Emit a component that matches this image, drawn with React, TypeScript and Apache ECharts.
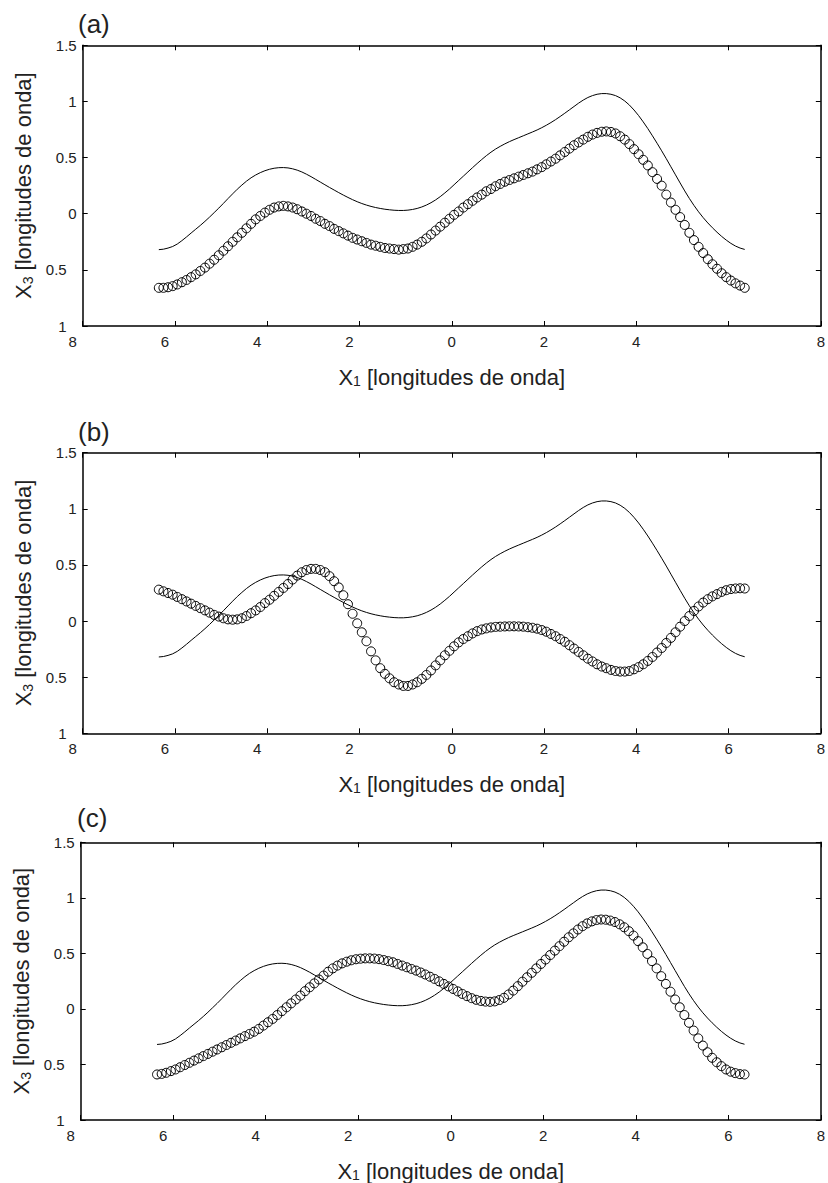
import React, { useEffect, useRef } from "react";
import * as echarts from "echarts";

// ---------- axes ----------
const X_MIN = -8;
const X_MAX = 8;
const X_INTERVAL = 2;
const Y_MIN = -1;
const Y_MAX = 1.5;
const Y_INTERVAL = 0.5;

const PANEL_LABELS = ["(a)", "(b)", "(c)"];
// x tick labels that are missing in each panel
const HIDDEN_X_LABELS = [[6], [], []];

// ---------- all curves are sampled every 0.1 from x = -6.35 to 6.35 ----------
const SAMPLE_X_START = -6.35;
const SAMPLE_X_STEP = 0.1;

// reference surface (solid line, identical in every panel)
const REF_SURFACE = [
  -0.32, -0.316, -0.306, -0.292, -0.27, -0.24, -0.207, -0.172, -0.138, -0.104,
  -0.068, -0.03, 0.01, 0.05, 0.092, 0.135, 0.177, 0.218, 0.255, 0.29,
  0.32, 0.345, 0.366, 0.383, 0.396, 0.405, 0.41, 0.411, 0.408, 0.4,
  0.388, 0.372, 0.352, 0.33, 0.306, 0.282, 0.258, 0.234, 0.211, 0.188,
  0.166, 0.145, 0.125, 0.107, 0.091, 0.077, 0.065, 0.055, 0.047, 0.04,
  0.035, 0.031, 0.029, 0.029, 0.032, 0.038, 0.047, 0.06, 0.077, 0.098,
  0.123, 0.152, 0.185, 0.22, 0.258, 0.296, 0.334, 0.372, 0.41, 0.447,
  0.483, 0.517, 0.548, 0.576, 0.6, 0.622, 0.642, 0.66, 0.677, 0.694,
  0.711, 0.728, 0.746, 0.766, 0.788, 0.812, 0.838, 0.866, 0.895, 0.925,
  0.955, 0.985, 1.012, 1.035, 1.052, 1.064, 1.07, 1.07, 1.064, 1.052,
  1.032, 1.004, 0.968, 0.924, 0.874, 0.818, 0.758, 0.694, 0.628, 0.56,
  0.49, 0.418, 0.346, 0.274, 0.203, 0.136, 0.074, 0.017, -0.035, -0.082,
  -0.125, -0.165, -0.202, -0.235, -0.264, -0.288, -0.306, -0.318,
];

// reconstructed surfaces (circles)
const CIRCLES_A = [
  -0.66, -0.66, -0.655, -0.645, -0.63, -0.61, -0.59, -0.565, -0.54, -0.51,
  -0.48, -0.445, -0.41, -0.37, -0.33, -0.29, -0.25, -0.21, -0.17, -0.13,
  -0.09, -0.05, -0.02, 0.01, 0.035, 0.055, 0.065, 0.07, 0.065, 0.055,
  0.04, 0.02, 0, -0.02, -0.045, -0.065, -0.09, -0.11, -0.135, -0.155,
  -0.175, -0.195, -0.215, -0.23, -0.245, -0.26, -0.275, -0.285, -0.295, -0.305,
  -0.31, -0.315, -0.32, -0.315, -0.31, -0.295, -0.275, -0.25, -0.22, -0.185,
  -0.15, -0.115, -0.08, -0.045, -0.01, 0.02, 0.055, 0.085, 0.115, 0.145,
  0.17, 0.2, 0.22, 0.245, 0.265, 0.285, 0.3, 0.315, 0.33, 0.345,
  0.36, 0.375, 0.395, 0.415, 0.44, 0.465, 0.49, 0.52, 0.55, 0.58,
  0.61, 0.635, 0.66, 0.685, 0.705, 0.72, 0.73, 0.733, 0.728, 0.715,
  0.69, 0.66, 0.62, 0.575, 0.53, 0.48, 0.43, 0.37, 0.31, 0.25,
  0.17, 0.1, 0.035, -0.03, -0.1, -0.17, -0.235, -0.295, -0.35, -0.405,
  -0.45, -0.49, -0.53, -0.565, -0.595, -0.62, -0.64, -0.66,
];

const CIRCLES_B = [
  0.28, 0.265, 0.25, 0.235, 0.215, 0.195, 0.175, 0.155, 0.135, 0.115,
  0.095, 0.075, 0.055, 0.04, 0.025, 0.015, 0.012, 0.015, 0.025, 0.045,
  0.07, 0.095, 0.125, 0.16, 0.19, 0.225, 0.26, 0.295, 0.33, 0.37,
  0.405, 0.435, 0.455, 0.465, 0.465, 0.455, 0.435, 0.4, 0.355, 0.3,
  0.23, 0.15, 0.065, -0.02, -0.1, -0.18, -0.27, -0.35, -0.42, -0.47,
  -0.51, -0.545, -0.565, -0.578, -0.578, -0.565, -0.545, -0.515, -0.48, -0.44,
  -0.395, -0.35, -0.305, -0.265, -0.225, -0.19, -0.16, -0.135, -0.11, -0.09,
  -0.075, -0.065, -0.057, -0.052, -0.05, -0.048, -0.047, -0.047, -0.048, -0.05,
  -0.055, -0.06, -0.068, -0.08, -0.095, -0.115, -0.135, -0.16, -0.185, -0.215,
  -0.245, -0.275, -0.305, -0.335, -0.36, -0.385, -0.405, -0.42, -0.435, -0.445,
  -0.45, -0.45, -0.445, -0.43, -0.41, -0.385, -0.355, -0.32, -0.28, -0.24,
  -0.195, -0.15, -0.1, -0.05, 0, 0.045, 0.09, 0.13, 0.165, 0.195,
  0.22, 0.24, 0.26, 0.275, 0.285, 0.29, 0.292, 0.29,
];

const CIRCLES_C = [
  -0.59, -0.585, -0.575, -0.56, -0.545, -0.525, -0.505, -0.485, -0.465, -0.445,
  -0.425, -0.405, -0.385, -0.365, -0.345, -0.325, -0.305, -0.285, -0.265, -0.245,
  -0.225, -0.205, -0.18, -0.15, -0.12, -0.09, -0.055, -0.02, 0.015, 0.05,
  0.085, 0.12, 0.16, 0.195, 0.23, 0.265, 0.3, 0.335, 0.365, 0.39,
  0.41, 0.425, 0.438, 0.447, 0.452, 0.455, 0.455, 0.453, 0.448, 0.44,
  0.43, 0.42, 0.405, 0.39, 0.375, 0.36, 0.345, 0.328, 0.31, 0.29,
  0.27, 0.248, 0.225, 0.203, 0.18, 0.158, 0.135, 0.115, 0.097, 0.082,
  0.072, 0.066, 0.064, 0.068, 0.08, 0.1, 0.13, 0.165, 0.205, 0.245,
  0.285, 0.325, 0.365, 0.405, 0.445, 0.485, 0.525, 0.565, 0.605, 0.645,
  0.68, 0.715, 0.745, 0.77, 0.788, 0.8, 0.805, 0.803, 0.795, 0.782,
  0.762, 0.735, 0.7, 0.66, 0.61, 0.555, 0.495, 0.43, 0.365, 0.295,
  0.225, 0.155, 0.085, 0.015, -0.055, -0.125, -0.195, -0.265, -0.33, -0.39,
  -0.44, -0.48, -0.515, -0.545, -0.565, -0.578, -0.587, -0.59,
];

const CIRCLE_SETS = [CIRCLES_A, CIRCLES_B, CIRCLES_C];

// ---------- layout (pixels) ----------
const GRIDS = [
  { left: 82.7, top: 45.3, width: 741, height: 280.7 },
  { left: 82.7, top: 452.7, width: 741, height: 280.6 },
  { left: 80.7, top: 842.3, width: 741.3, height: 280.4 },
];
const LABEL_POS = [
  { x: 78, y: 24 },
  { x: 78, y: 431.5 },
  { x: 77, y: 817.5 },
];

const FONT = "'Liberation Sans', Arial, Helvetica, sans-serif";
const TEXT_COLOR = "#222";

const nameRich = {
  m: { fontSize: 22, fontFamily: FONT, color: TEXT_COLOR, verticalAlign: "bottom" },
  s: { fontSize: 14, fontFamily: FONT, color: TEXT_COLOR, verticalAlign: "bottom" },
};

const sampleX = (i: number) => +(SAMPLE_X_START + i * SAMPLE_X_STEP).toFixed(2);

function buildOption() {
  const xAxis: any[] = [];
  const yAxis: any[] = [];
  const series: any[] = [];
  const grid: any[] = [];
  const graphic: any[] = [];

  const tickCommon = {
    axisTick: { show: true, inside: true, length: 5, lineStyle: { color: "#000", width: 1 } },
    axisLine: { show: true, onZero: false, lineStyle: { color: "#000", width: 1.5 } },
    splitLine: { show: false },
  };

  for (let p = 0; p < 3; p++) {
    grid.push({ ...GRIDS[p], containLabel: false });
    const hidden = HIDDEN_X_LABELS[p];

    xAxis.push({
      type: "value",
      gridIndex: p,
      position: "bottom",
      min: X_MIN,
      max: X_MAX,
      interval: X_INTERVAL,
      ...tickCommon,
      axisLabel: {
        show: true,
        margin: 8,
        fontSize: 15,
        fontFamily: FONT,
        color: TEXT_COLOR,
        formatter: (v: number) => {
          if (hidden.indexOf(v) >= 0) return "";
          const s = String(Math.abs(v));
          return v < 0 ? `{n|${s}}` : s;
        },
        rich: {
          n: { fontSize: 15, fontFamily: FONT, color: TEXT_COLOR, padding: [0, 20, 0, 0] },
        },
      },
      name: "{m|X}{s|1}{m| [longitudes de onda]}",
      nameLocation: "middle",
      nameGap: 40,
      nameTextStyle: { rich: nameRich },
    });
    xAxis.push({
      type: "value",
      gridIndex: p,
      position: "top",
      min: X_MIN,
      max: X_MAX,
      interval: X_INTERVAL,
      ...tickCommon,
      axisLabel: { show: false },
    });

    yAxis.push({
      type: "value",
      gridIndex: p,
      position: "left",
      min: Y_MIN,
      max: Y_MAX,
      interval: Y_INTERVAL,
      ...tickCommon,
      axisLabel: {
        show: true,
        margin: 6,
        fontSize: 15,
        fontFamily: FONT,
        color: TEXT_COLOR,
        formatter: (v: number) => {
          const s = String(Math.abs(v));
          return v < 0 ? `{n|${s}}` : s;
        },
        rich: {
          n: { fontSize: 15, fontFamily: FONT, color: TEXT_COLOR, padding: [0, 10, 0, 0] },
        },
      },
      name: "{m|X}{s|3}{m| [longitudes de onda]}",
      nameLocation: "middle",
      nameGap: 42,
      nameRotate: 90,
      nameTextStyle: { rich: nameRich },
    });
    yAxis.push({
      type: "value",
      gridIndex: p,
      position: "right",
      min: Y_MIN,
      max: Y_MAX,
      interval: Y_INTERVAL,
      ...tickCommon,
      axisLabel: { show: false },
    });

    series.push({
      type: "line",
      xAxisIndex: p * 2,
      yAxisIndex: p * 2,
      data: REF_SURFACE.map((y, i) => [sampleX(i), y]),
      smooth: false,
      showSymbol: false,
      symbol: "none",
      lineStyle: { color: "#000", width: 1 },
      silent: true,
      z: 2,
    });

    const circles = CIRCLE_SETS[p];
    series.push({
      type: "scatter",
      xAxisIndex: p * 2,
      yAxisIndex: p * 2,
      data: circles.map((y, i) => [sampleX(i), y]),
      symbol: "circle",
      symbolSize: 9,
      itemStyle: { color: "rgba(0,0,0,0)", borderColor: "#000", borderWidth: 1, opacity: 1 },
      silent: true,
      z: 3,
    });

    graphic.push({
      type: "text",
      x: LABEL_POS[p].x,
      y: LABEL_POS[p].y,
      style: {
        text: PANEL_LABELS[p],
        fontSize: 26,
        fontFamily: FONT,
        fill: TEXT_COLOR,
        textVerticalAlign: "middle",
        verticalAlign: "middle",
      },
    });
  }

  return {
    animation: false,
    backgroundColor: "#fff",
    grid,
    xAxis,
    yAxis,
    series,
    graphic,
  };
}

export default function App() {
  const ref = useRef<HTMLDivElement | null>(null);
  useEffect(() => {
    if (!ref.current) return;
    const chart = echarts.init(ref.current, null, { renderer: "svg" });
    chart.setOption(buildOption() as any);
    return () => chart.dispose();
  }, []);
  return (
    <div
      ref={ref}
      style={{ position: "absolute", left: 0, top: 0, width: 828, height: 1183, background: "#fff" }}
    />
  );
}
